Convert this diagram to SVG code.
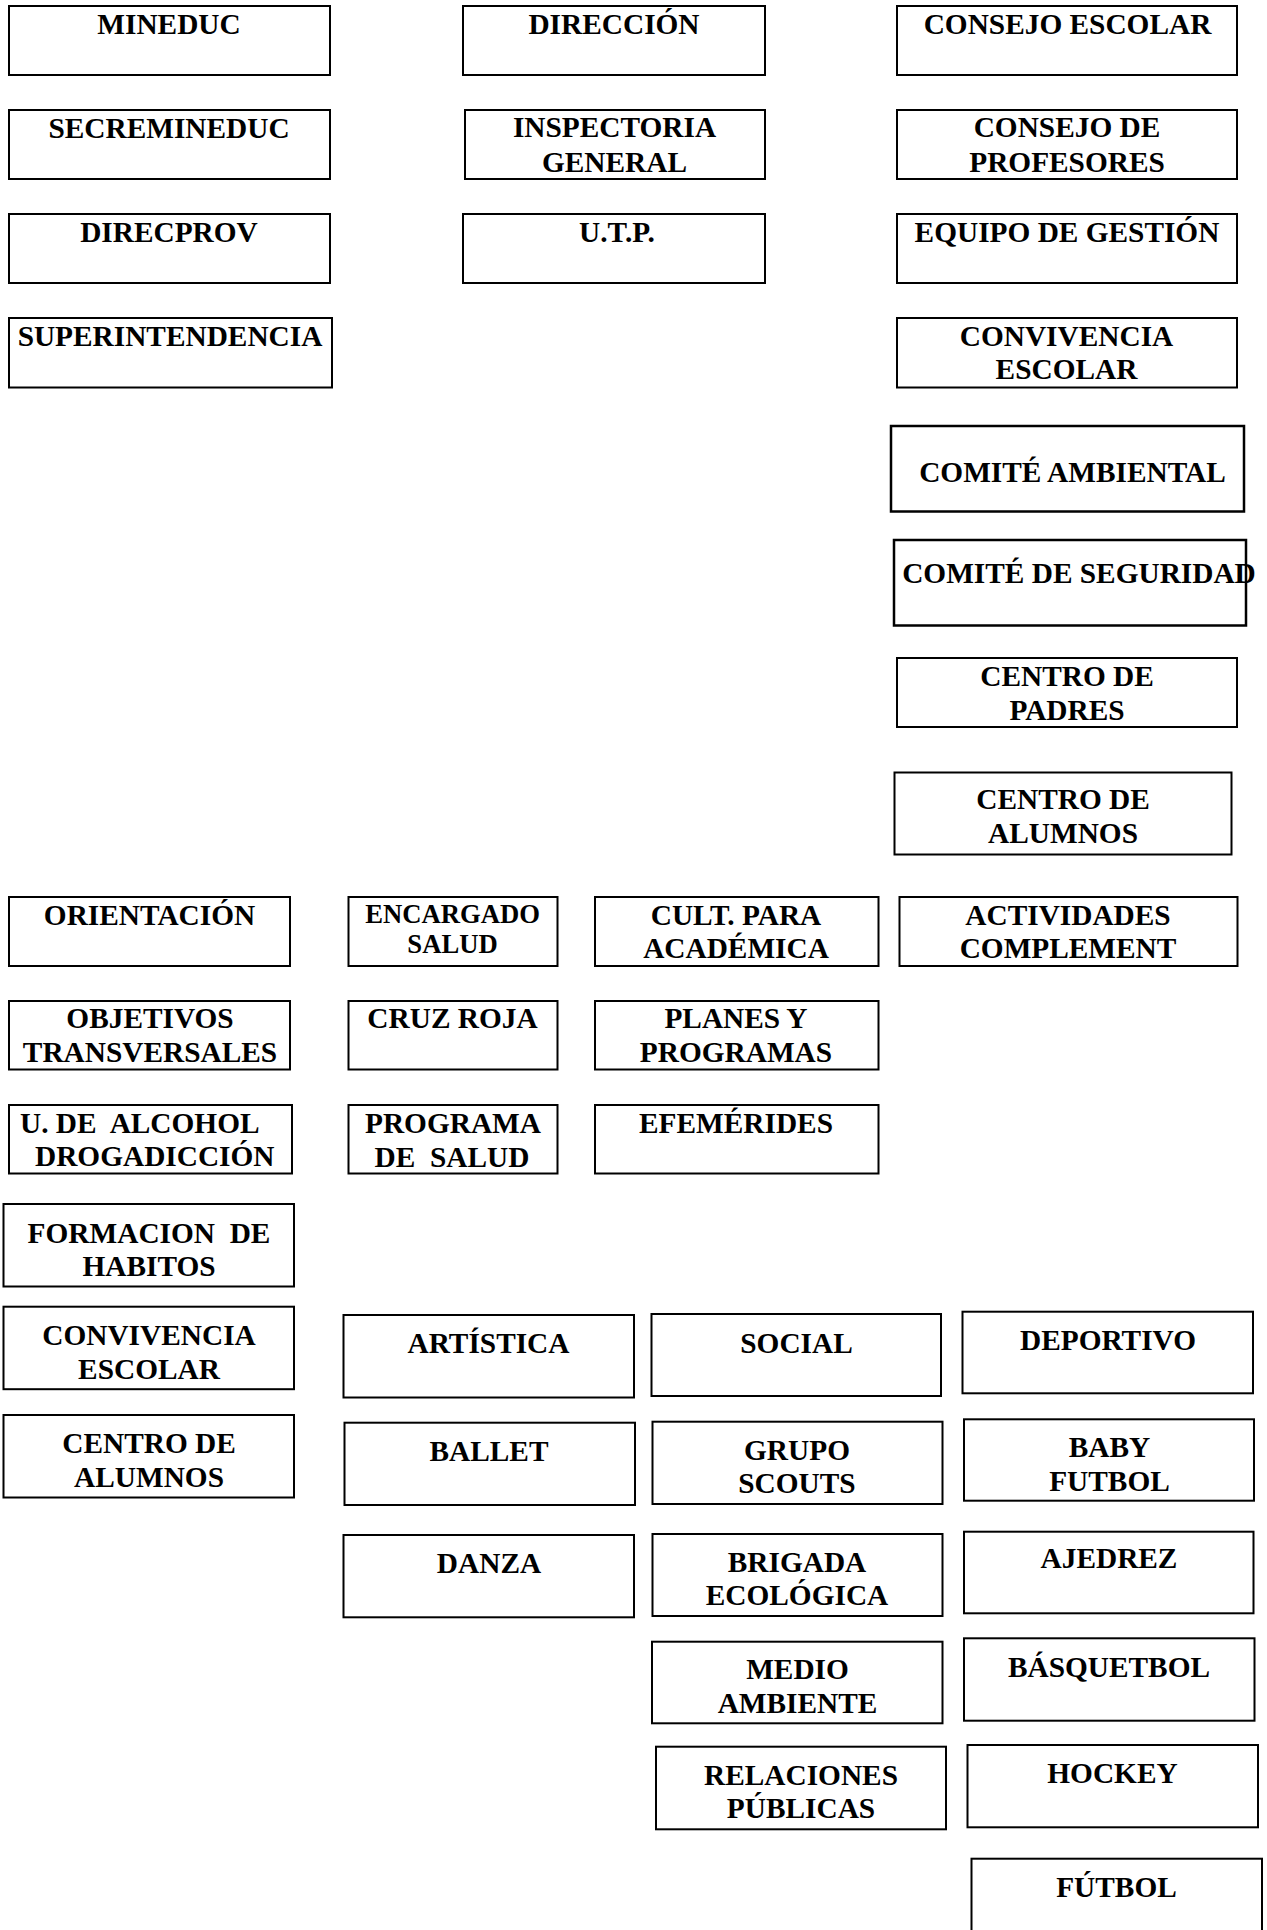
<svg xmlns="http://www.w3.org/2000/svg" width="1267" height="1930" viewBox="0 0 1267 1930">
<style>
.box{fill:#fff;stroke:#000;stroke-width:2}
.thick{stroke-width:2.5}
.t{font-family:"Liberation Serif","Times New Roman",serif;font-weight:bold;font-size:29.33px;text-anchor:middle;fill:#000}
.s{font-size:26.67px}
.l{text-anchor:start}
</style>
<rect width="1267" height="1930" fill="#fff"/>
<g id="connectors"/>
<g id="mineduc"><rect class="box" x="9" y="6" width="321" height="69"/><text class="t" x="169" y="33.5">MINEDUC</text></g>
<g id="secremineduc"><rect class="box" x="9" y="110" width="321" height="69"/><text class="t" x="169" y="137.5">SECREMINEDUC</text></g>
<g id="direcprov"><rect class="box" x="9" y="214" width="321" height="69"/><text class="t" x="169" y="241.7">DIRECPROV</text></g>
<g id="superintendencia"><rect class="box" x="9" y="318" width="323" height="69.5"/><text class="t" x="170" y="345.7">SUPERINTENDENCIA</text></g>

<g id="direccion"><rect class="box" x="463" y="6" width="302" height="69"/><text class="t" x="614" y="33.5">DIRECCIÓN</text></g>
<g id="inspectoria"><rect class="box" x="465" y="110" width="300" height="69"/><text class="t" x="614.5" y="137.3">INSPECTORIA</text><text class="t" x="614.5" y="171.7">GENERAL</text></g>
<g id="utp"><rect class="box" x="463" y="214" width="302" height="69"/><text class="t" x="617" y="241.7">U.T.P.</text></g>

<g id="consejo-escolar"><rect class="box" x="897" y="6" width="340" height="69"/><text class="t" x="1067.5" y="33.5">CONSEJO ESCOLAR</text></g>
<g id="consejo-profesores"><rect class="box" x="897" y="110" width="340" height="69"/><text class="t" x="1067" y="137.3">CONSEJO DE</text><text class="t" x="1067" y="171.7">PROFESORES</text></g>
<g id="equipo-gestion"><rect class="box" x="897" y="214" width="340" height="69"/><text class="t" x="1067" y="241.7">EQUIPO DE GESTIÓN</text></g>
<g id="convivencia-escolar-1"><rect class="box" x="897" y="318" width="340" height="69.5"/><text class="t" x="1066.5" y="345.7">CONVIVENCIA</text><text class="t" x="1066.5" y="379.3">ESCOLAR</text></g>
<g id="comite-ambiental"><rect class="box thick" x="891" y="426" width="353" height="85.5"/><text class="t" x="1072.5" y="481.7">COMITÉ AMBIENTAL</text></g>
<g id="comite-seguridad"><rect class="box thick" x="894" y="540" width="352" height="85.5"/><text class="t" x="1079" y="582.7">COMITÉ DE SEGURIDAD</text></g>
<g id="centro-padres"><rect class="box" x="897" y="658" width="340" height="69"/><text class="t" x="1067" y="686">CENTRO DE</text><text class="t" x="1067" y="720">PADRES</text></g>
<g id="centro-alumnos-1"><rect class="box" x="894.5" y="772.5" width="337" height="82"/><text class="t" x="1063" y="809.3">CENTRO DE</text><text class="t" x="1063" y="843.3">ALUMNOS</text></g>

<g id="orientacion"><rect class="box" x="9" y="897" width="281" height="69"/><text class="t" x="149.5" y="925">ORIENTACIÓN</text></g>
<g id="objetivos"><rect class="box" x="9" y="1001" width="281" height="68.5"/><text class="t" x="150" y="1028.3">OBJETIVOS</text><text class="t" x="150" y="1061.7">TRANSVERSALES</text></g>
<g id="alcohol"><rect class="box" x="9" y="1105" width="283" height="68.5"/><text class="t l" x="20" y="1132.7" xml:space="preserve">U. DE  ALCOHOL</text><text class="t l" x="35" y="1166">DROGADICCIÓN</text></g>
<g id="encargado-salud"><rect class="box" x="348.5" y="897" width="209" height="69"/><text class="t s" x="452.5" y="923.3">ENCARGADO</text><text class="t s" x="452.5" y="953.3">SALUD</text></g>
<g id="cruz-roja"><rect class="box" x="348.5" y="1001" width="209" height="68.5"/><text class="t" x="452.5" y="1028.3">CRUZ ROJA</text></g>
<g id="programa-salud"><rect class="box" x="348.5" y="1105" width="209" height="68.5"/><text class="t" x="453" y="1132.7">PROGRAMA</text><text class="t" x="452" y="1166.7" xml:space="preserve">DE  SALUD</text></g>
<g id="cult-para"><rect class="box" x="595" y="897" width="283.5" height="69"/><text class="t" x="736" y="925">CULT. PARA</text><text class="t" x="736" y="958.3">ACADÉMICA</text></g>
<g id="planes"><rect class="box" x="595" y="1001" width="283.5" height="68.5"/><text class="t" x="736" y="1028.3">PLANES Y</text><text class="t" x="736" y="1061.7">PROGRAMAS</text></g>
<g id="efemerides"><rect class="box" x="595" y="1105" width="283.5" height="68.5"/><text class="t" x="736" y="1133">EFEMÉRIDES</text></g>
<g id="actividades"><rect class="box" x="899.5" y="897" width="338" height="69"/><text class="t" x="1068" y="925">ACTIVIDADES</text><text class="t" x="1068" y="958.3">COMPLEMENT</text></g>

<g id="formacion"><rect class="box" x="3.5" y="1204" width="290.5" height="82.5"/><text class="t" x="149" y="1242.7" xml:space="preserve">FORMACION  DE</text><text class="t" x="149" y="1276">HABITOS</text></g>
<g id="convivencia-escolar-2"><rect class="box" x="3.5" y="1306.7" width="290.5" height="82.5"/><text class="t" x="149" y="1345">CONVIVENCIA</text><text class="t" x="149" y="1379.3">ESCOLAR</text></g>
<g id="centro-alumnos-2"><rect class="box" x="3.5" y="1415" width="290.5" height="82.5"/><text class="t" x="149" y="1452.7">CENTRO DE</text><text class="t" x="149" y="1486.7">ALUMNOS</text></g>

<g id="artistica"><rect class="box" x="343.5" y="1315" width="290.5" height="82.5"/><text class="t" x="488.5" y="1352.7">ARTÍSTICA</text></g>
<g id="ballet"><rect class="box" x="344.5" y="1422.7" width="290.5" height="82.3"/><text class="t" x="489" y="1460.7">BALLET</text></g>
<g id="danza"><rect class="box" x="343.5" y="1535" width="290.5" height="82.3"/><text class="t" x="489" y="1573.3">DANZA</text></g>

<g id="social"><rect class="box" x="651.5" y="1314" width="289.5" height="82"/><text class="t" x="796.5" y="1352.7">SOCIAL</text></g>
<g id="grupo-scouts"><rect class="box" x="652.5" y="1421.7" width="290" height="82.3"/><text class="t" x="797" y="1460">GRUPO</text><text class="t" x="797" y="1492.7">SCOUTS</text></g>
<g id="brigada"><rect class="box" x="652.5" y="1534" width="290" height="82"/><text class="t" x="797" y="1571.7">BRIGADA</text><text class="t" x="797" y="1605">ECOLÓGICA</text></g>
<g id="medio-ambiente"><rect class="box" x="652" y="1641.7" width="290.5" height="81.6"/><text class="t" x="797.5" y="1679.3">MEDIO</text><text class="t" x="797.5" y="1712.7">AMBIENTE</text></g>
<g id="relaciones"><rect class="box" x="656" y="1746.7" width="290" height="82.6"/><text class="t" x="801" y="1785">RELACIONES</text><text class="t" x="801" y="1818.3">PÚBLICAS</text></g>

<g id="deportivo"><rect class="box" x="962.5" y="1311.7" width="290.5" height="81.6"/><text class="t" x="1108" y="1350">DEPORTIVO</text></g>
<g id="baby-futbol"><rect class="box" x="964" y="1419.3" width="290" height="81.4"/><text class="t" x="1109.5" y="1456.7">BABY</text><text class="t" x="1109.5" y="1490.7">FUTBOL</text></g>
<g id="ajedrez"><rect class="box" x="964" y="1531.7" width="289.5" height="81.6"/><text class="t" x="1109" y="1568.3">AJEDREZ</text></g>
<g id="basquetbol"><rect class="box" x="964" y="1638.3" width="290.5" height="82.4"/><text class="t" x="1109" y="1676.7">BÁSQUETBOL</text></g>
<g id="hockey"><rect class="box" x="967.5" y="1745" width="290.5" height="82.3"/><text class="t" x="1112.5" y="1783.3">HOCKEY</text></g>
<g id="futbol"><rect class="box" x="971.5" y="1858.7" width="290.5" height="100"/><text class="t" x="1116.5" y="1896.7">FÚTBOL</text></g>
</svg>
